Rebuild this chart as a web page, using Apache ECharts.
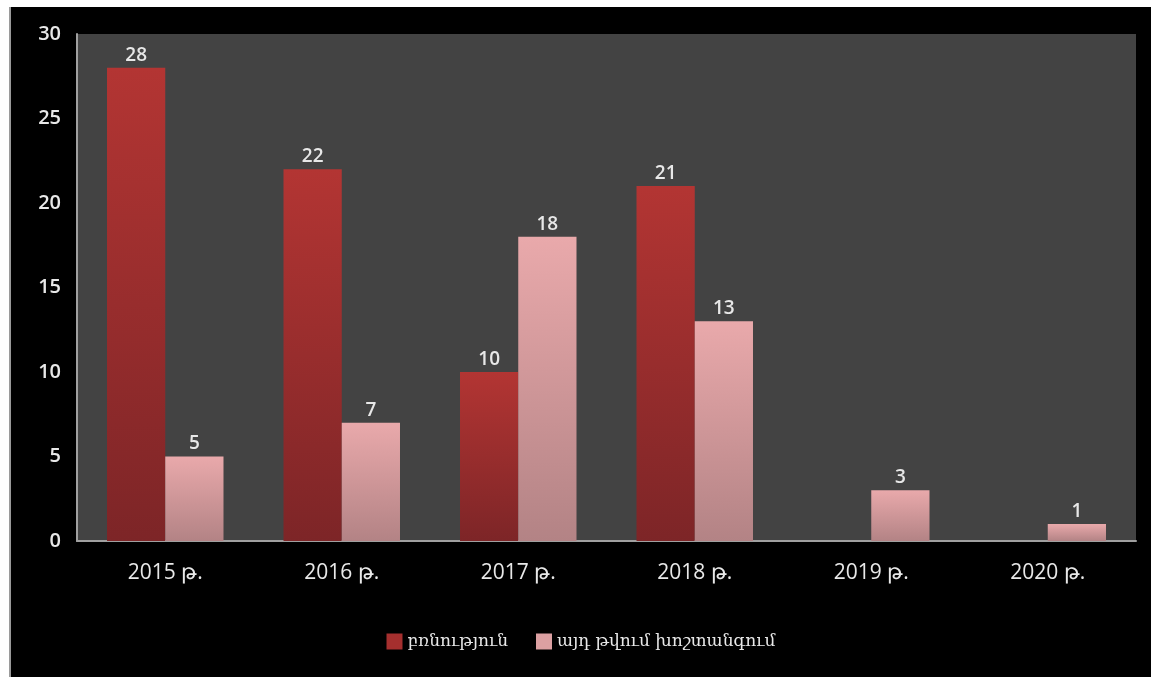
<!DOCTYPE html>
<html>
<head>
<meta charset="utf-8">
<script src="https://cdn.jsdelivr.net/npm/echarts@6/dist/echarts.min.js"></script>
<style>
  html, body { margin: 0; padding: 0; background: #fff; }
  #chart { position: absolute; left: 9px; top: 7px; width: 1142px; height: 670px; background: #000; border-left: 2px solid #9a9a9a; box-sizing: border-box; }
</style>
</head>
<body>
<div id="chart"></div>
<script>
const years = ['2015 թ.', '2016 թ.', '2017 թ.', '2018 թ.', '2019 թ.', '2020 թ.'];
const violence = [28, 22, 10, 21, '-', '-'];
const torture = [5, 7, 18, 13, 3, 1];
const seriesNames = ['բռնություն', 'այդ թվում խոշտանգում'];

const grad = (top, bottom) => new echarts.graphic.LinearGradient(0, 0, 0, 1, [
  {offset: 0, color: top}, {offset: 1, color: bottom}
]);

let chart = echarts.init(document.getElementById('chart'));
let labelStyle = {show: true, position: 'top', color: '#e8e8e8', fontSize: 19, fontWeight: 600, fontFamily: 'Open Sans', distance: 3};
let options = {
  animation: false,
  textStyle: {fontFamily: 'Open Sans'},
  grid: {left: 66, right: 15, top: 27, bottom: 136, show: true, backgroundColor: '#434343', borderWidth: 0},
  legend: {
    bottom: 22, left: 'center', icon: 'rect', itemWidth: 16, itemHeight: 16, itemGap: 28,
    textStyle: {color: '#e8e8e8', fontSize: 17, fontFamily: 'DejaVu Serif'},
    data: [
      {name: seriesNames[0], itemStyle: {color: '#a52f2e'}},
      {name: seriesNames[1], itemStyle: {color: '#dca0a2'}}
    ]
  },
  xAxis: {
    type: 'category', data: years,
    axisLine: {lineStyle: {color: '#a0a0a0', width: 2}},
    axisTick: {show: false},
    axisLabel: {color: '#e8e8e8', fontSize: 21, margin: 22, fontFamily: 'Open Sans'}
  },
  yAxis: {
    type: 'value', min: 0, max: 30, interval: 5,
    axisLine: {show: true, lineStyle: {color: '#a0a0a0', width: 2}},
    axisTick: {show: false},
    splitLine: {show: false},
    axisLabel: {color: '#e8e8e8', fontSize: 20, fontWeight: 600, margin: 16, fontFamily: 'Open Sans'}
  },
  series: [
    {name: seriesNames[0], type: 'bar', data: violence, barGap: '0%', barCategoryGap: '34%',
      itemStyle: {color: grad('#b33533', '#7d2527')}, label: labelStyle},
    {name: seriesNames[1], type: 'bar', data: torture,
      itemStyle: {color: grad('#e9a9ab', '#b38385')}, label: labelStyle}
  ]
};
chart.setOption(options);
</script>
</body>
</html>
